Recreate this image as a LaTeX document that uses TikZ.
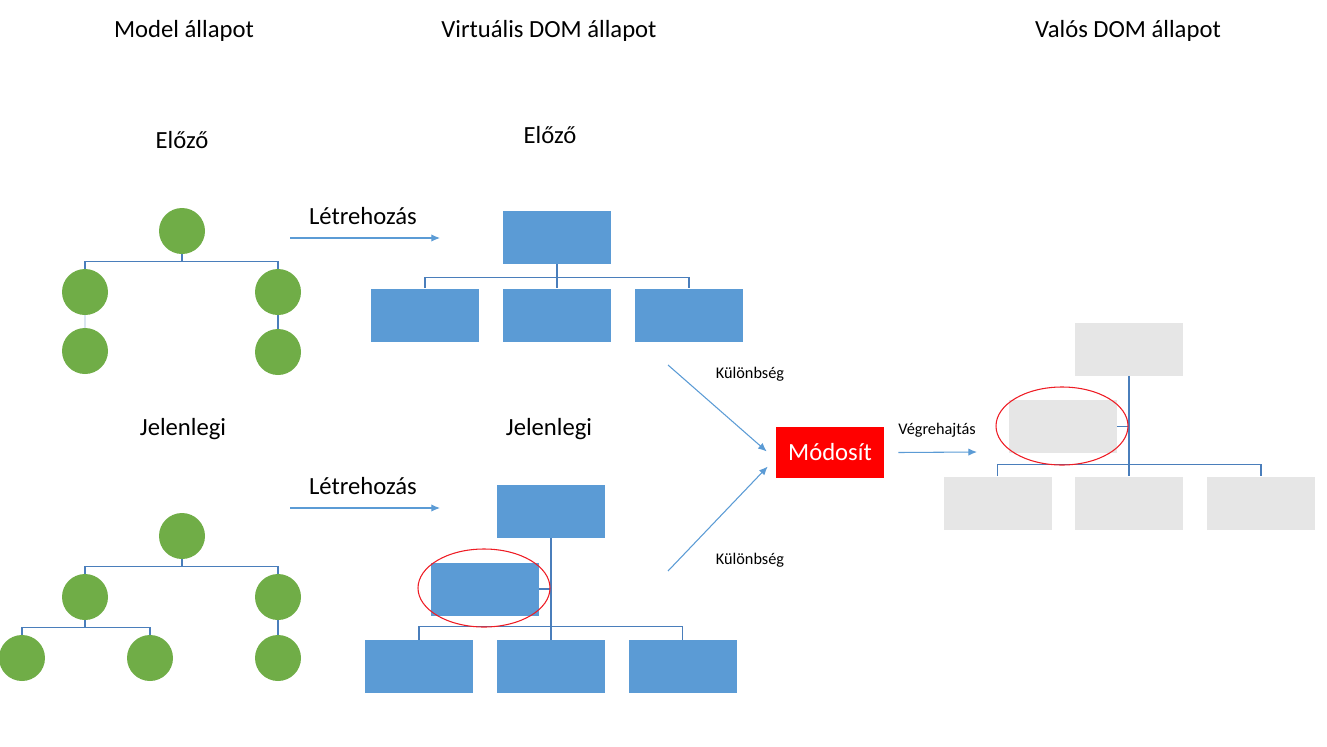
\documentclass[tikz,border=0pt]{standalone}
\usepackage{fontspec}
\setmainfont{Carlito}
\usetikzlibrary{arrows.meta,calc,shapes.geometric}
\definecolor{leafgreen}{HTML}{70AD47}
\definecolor{boxblue}{HTML}{5B9BD5}
\definecolor{boxgrey}{HTML}{E6E6E6}
\definecolor{linkblue}{HTML}{4A7EBB}
\definecolor{arrowblue}{HTML}{5B9BD5}
\definecolor{modred}{HTML}{FF0000}
\definecolor{ringred}{HTML}{EE1C24}
\begin{document}
\begin{tikzpicture}[x=0.75pt,y=-0.75pt,
  leaf/.style={circle, fill=leafgreen, minimum size=34.5pt, inner sep=0pt},
  vbox/.style={rectangle, fill=boxblue, minimum width=81pt, minimum height=39.75pt, inner sep=0pt},
  rbox/.style={vbox, fill=boxgrey},
  link/.style={draw=linkblue, line width=0.9pt},
  faintlink/.style={link, opacity=0.2},
  flow/.style={draw=arrowblue, line width=0.8pt, -{Latex[length=6.5pt,width=5.5pt]}},
  big/.style={font=\fontsize{18.5}{22}\selectfont},
  small/.style={font=\fontsize{12.2}{14}\selectfont},
  ring/.style={ellipse, draw=ringred, line width=0.8pt, minimum width=99pt, minimum height=58.5pt, inner sep=0pt},
  modbox/.style={rectangle, fill=modred, text=white, minimum width=81pt, minimum height=38.25pt, inner sep=0pt, font=\fontsize{18.5}{22}\selectfont}
]
\useasboundingbox (0,0) rectangle (1327,746);

% titles
\node[big] (t1) at (184,31) {Model állapot};
\node[big] (t2) at (549,31) {Virtuális DOM állapot};
\node[big] (t3) at (1128,31) {Valós DOM állapot};
\node[big] (h1) at (182,140) {Előző};
\node[big] (h2) at (550,135) {Előző};
\node[big] (h3) at (183,429) {Jelenlegi};
\node[big] (h4) at (549,429) {Jelenlegi};

% model tree previous
\node[leaf] (m1r) at (182,231) {};
\node[leaf] (m1a) at (85,292) {};
\node[leaf] (m1b) at (278,292) {};
\node[leaf] (m1c) at (85,351) {};
\node[leaf] (m1d) at (278,352) {};
\draw[link] (m1r.south) -- ($(m1r.south |- m1a.north)+(0,-7)$);
\draw[link] (m1a.north) -- ++(0,-7) -| (m1b.north);
\draw[link] (m1b.south) -- (m1d.north);
\draw[faintlink] (m1a.south) -- (m1c.north);

% model tree current
\node[leaf] (m2r) at (182,536) {};
\node[leaf] (m2a) at (85,597) {};
\node[leaf] (m2b) at (278,597) {};
\node[leaf] (m2c) at (22,658) {};
\node[leaf] (m2d) at (150,658) {};
\node[leaf] (m2e) at (278,658) {};
\draw[link] (m2r.south) -- ($(m2r.south |- m2a.north)+(0,-7)$);
\draw[link] (m2a.north) -- ++(0,-7) -| (m2b.north);
\draw[link] (m2a.south) -- ($(m2a.south |- m2c.north)+(0,-7)$);
\draw[link] (m2c.north) -- ++(0,-7) -| (m2d.north);
\draw[link] (m2b.south) -- (m2e.north);

% creation arrows
\coordinate (c1s) at (290,238);
\coordinate (c1e) at (440,238);
\coordinate (c2s) at (290,508);
\coordinate (c2e) at (440,508);
\draw[flow] (c1s) -- (c1e);
\draw[flow] (c2s) -- (c2e);
\node[big] (l1) at (363,216) {Létrehozás};
\node[big] (l2) at (363,486) {Létrehozás};

% virtual tree previous
\node[vbox] (v1r) at (557,237.5) {};
\node[vbox] (v1a) at (425,315) {};
\node[vbox] (v1b) at (557,315) {};
\node[vbox] (v1c) at (689,315) {};
\draw[link] (v1r.south) -- (v1b.north);
\draw[link] (v1a.north) -- ++(0,-11) -| (v1c.north);

% virtual tree current
\node[vbox] (v2r) at (551,511.5) {};
\node[vbox] (v2m) at (485,589) {};
\node[vbox] (v2a) at (419,666.5) {};
\node[vbox] (v2b) at (551,666.5) {};
\node[vbox] (v2c) at (682.5,666.5) {};
\draw[link] (v2r.south) -- (v2b.north);
\draw[link] (v2m.east) -- (v2m.east -| v2b.north);
\draw[link] (v2a.north) -- ++(0,-13) -| (v2c.north);
\node[ring] (e1) at (484,588) {};

% modify
\node[modbox] (mod) at (830,452.5) {Módosít};
\coordinate (d1s) at (668,365);
\coordinate (d2s) at (668,571);
\draw[flow] (d1s) -- ($(mod.west)+(-9,-1)$);
\draw[flow] (d2s) -- ($(mod.west)+(-8,14)$);
\node[small] (k1) at (750,374) {Különbség};
\node[small] (k2) at (750,560) {Különbség};
\coordinate (x1e) at (977,452);
\draw[flow] ($(mod.east)+(14,0)$) -- (x1e);
\node[small] (vg) at (937,430) {Végrehajtás};

% real DOM tree
\node[rbox] (r1r) at (1129,349) {};
\node[rbox] (r1m) at (1063,426.5) {};
\node[rbox] (r1a) at (997.5,503) {};
\node[rbox] (r1b) at (1129,503) {};
\node[rbox] (r1c) at (1261,503) {};
\draw[link] (r1r.south) -- (r1b.north);
\draw[link] (r1m.east) -- (r1m.east -| r1b.north);
\draw[link] (r1a.north) -- ++(0,-12) -| (r1c.north);
\node[ring] (e2) at (1062,426) {};
\end{tikzpicture}
\end{document}
